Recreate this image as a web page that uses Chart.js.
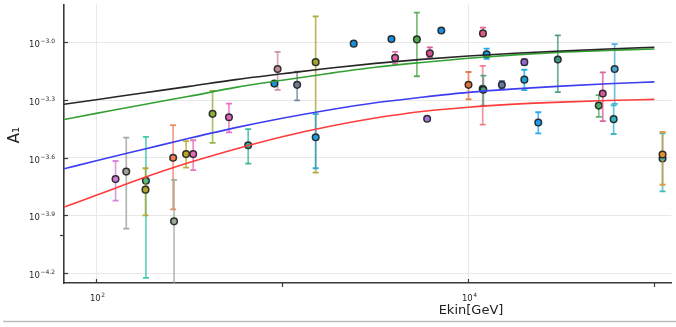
<!DOCTYPE html>
<html><head><meta charset="utf-8">
<script src="https://cdn.jsdelivr.net/npm/chart.js@4.4.1/dist/chart.umd.min.js"></script>
<style>html,body{margin:0;padding:0;background:#fff;}#wrap{position:relative;width:676px;height:327px;}</style>
</head><body><div id="wrap"><canvas id="c" width="676" height="327"></canvas></div>
<script>
// ---- data ----
const energy = [127, 145, 185, 184, 259, 262, 304, 332, 422, 517, 656, 944, 907, 1202, 1512, 1512, 2421, 3862, 4041, 5292, 6210, 7159, 6007, 10025, 11990, 12550, 11950, 12050, 15150, 20010, 20010, 23770, 30280, 50270, 52800, 61180, 60430, 110700, 110700];
const amp = [1.944e-4, 2.127e-4, 1.905e-4, 1.713e-4, 2.511e-4, 1.172e-4, 2.623e-4, 2.623e-4, 4.248e-4, 4.080e-4, 2.918e-4, 7.263e-4, 6.103e-4, 6.010e-4, 7.891e-4, 3.208e-4, 9.847e-4, 1.040e-3, 8.304e-4, 1.036e-3, 8.778e-4, 1.153e-3, 4.003e-4, 6.010e-4, 1.113e-3, 8.675e-4, 5.732e-4, 5.664e-4, 6.010e-4, 7.891e-4, 6.399e-4, 3.831e-4, 8.147e-4, 4.688e-4, 5.421e-4, 7.263e-4, 3.985e-4, 2.487e-4, 2.608e-4];
const errHigh = [2.414e-4, 3.197e-4, 3.220e-4, 2.214e-4, 3.711e-4, 1.928e-4, 3.060e-4, 3.096e-4, 5.598e-4, 4.799e-4, 3.540e-4, 8.917e-4, 6.228e-4, 7.035e-4, 1.365e-3, 4.228e-4, 1.006e-3, 1.061e-3, 8.917e-4, 1.427e-3, 9.425e-4, 1.173e-3, 4.076e-4, 7.010e-4, 1.194e-3, 9.281e-4, 7.552e-4, 6.711e-4, 6.302e-4, 8.147e-4, 7.204e-4, 4.329e-4, 1.086e-3, 5.320e-4, 6.986e-4, 9.799e-4, 4.704e-4, 3.364e-4, 3.424e-4];
const errLow = [1.503e-4, 1.075e-4, 5.949e-5, 1.259e-4, 1.351e-4, 4.601e-5, 2.230e-4, 2.163e-4, 2.999e-4, 3.404e-4, 2.339e-4, 5.664e-4, 5.975e-4, 4.990e-4, 2.102e-4, 2.214e-4, 9.651e-4, 1.018e-3, 7.733e-4, 6.663e-4, 8.373e-4, 1.132e-3, 3.923e-4, 5.050e-4, 1.083e-3, 8.205e-4, 3.729e-4, 4.688e-4, 5.732e-4, 7.643e-4, 5.644e-4, 3.364e-4, 5.512e-4, 4.099e-4, 3.891e-4, 4.782e-4, 3.336e-4, 1.679e-4, 1.817e-4];

const curveE = [67.1, 100, 177.8, 316.2, 562.3, 1000, 1778, 3162, 5623, 10000, 17783, 31623, 56234, 100000];
const blackCurve = [4.76e-4, 5.03e-4, 5.45e-4, 5.90e-4, 6.40e-4, 6.86e-4, 7.33e-4, 7.77e-4, 8.16e-4, 8.49e-4, 8.78e-4, 9.01e-4, 9.23e-4, 9.43e-4];
const greenCurve = [3.97e-4, 4.27e-4, 4.74e-4, 5.24e-4, 5.83e-4, 6.35e-4, 6.89e-4, 7.42e-4, 7.86e-4, 8.27e-4, 8.61e-4, 8.88e-4, 9.08e-4, 9.24e-4];
const blueCurve = [2.20e-4, 2.42e-4, 2.77e-4, 3.17e-4, 3.60e-4, 4.03e-4, 4.45e-4, 4.85e-4, 5.18e-4, 5.49e-4, 5.73e-4, 5.92e-4, 6.09e-4, 6.23e-4];
const redCurve = [1.39e-4, 1.60e-4, 1.97e-4, 2.37e-4, 2.79e-4, 3.23e-4, 3.65e-4, 4.04e-4, 4.37e-4, 4.60e-4, 4.77e-4, 4.89e-4, 4.98e-4, 5.05e-4];

const xTickValues = [100, 1000, 10000, 100000];
const xTickLabels = ['2', '', '4', ''];
const yTickValues = [1e-3, 5.012e-4, 2.512e-4, 1.259e-4, 6.310e-5, 1e-4];
const yTickLabels = ['\u22123.0', '\u22123.3', '\u22123.6', '\u22123.9', '\u22124.2', ''];
const xRange = [67.1, 123200];
const yRange = [5.60e-5, 1.568e-3];

// ---- styles ----
const pointColors = ['#d67ad9','#9e9e9e','#2ec4a4','#b5a22e','#f07d55','#9aaa95','#b8a62a','#e66ab4','#8aae3c','#e262bc','#2fb294','#c48a92','#1a8fe0','#6e8094','#a6a22a','#1e9fe0','#1a8fe0','#1a8fe0','#de64a6','#4ea64e','#d4508e','#1a8fe0','#a476d6','#e2703c','#dc5a8a','#16a2e2','#f0727e','#3e9e7e','#6a78a6','#9466cc','#14a6d6','#18a2ee','#3e9282','#52a664','#d45696','#46a6d6','#2eb4c2','#2eb6b6','#e29234'];
function hexA(h, a){const n=parseInt(h.slice(1),16);return `rgba(${n>>16},${(n>>8)&255},${n&255},${a})`;}

const drawList = [];
for (let i = 0; i < energy.length; i++) {
  drawList.push({type:'line', data:[{x:energy[i], y:errLow[i]}, {x:energy[i], y:errHigh[i]}],
    borderColor: hexA(pointColors[i], 0.75), borderWidth: 1.7, pointStyle: 'line', pointRadius: 3,
    pointBorderWidth: 1.8, pointBorderColor: hexA(pointColors[i], 0.9), pointHoverRadius: 0, fill: false});
  drawList.push({type:'scatter', data:[{x:energy[i], y:amp[i]}], backgroundColor: pointColors[i],
    borderColor: 'rgba(30,30,30,0.9)', borderWidth: 1.5, pointRadius: 3.3, pointHoverRadius: 3.3});
}
const curves = [[redCurve,'#ff3b3b'],[blueCurve,'#3d3df2'],[greenCurve,'#33a033'],[blackCurve,'#262626']];
curves.forEach(([vals,col]) => drawList.push({type:'line', data: curveE.map((e,i)=>({x:e, y:vals[i]})),
  borderColor: col, borderWidth: 1.6, pointRadius: 0, pointHoverRadius: 0, cubicInterpolationMode: 'monotone', fill: false}));
const datasets = drawList.reverse();

const FONT = '"DejaVu Sans", sans-serif';
function drawPow(ctx, base, exp, x, y, align) {
  ctx.font = '8.5px ' + FONT; const bw = ctx.measureText(base).width;
  ctx.font = '6px ' + FONT; const ew = ctx.measureText(exp).width;
  const x0 = align === 'right' ? x - bw - ew - 0.5 : x - (bw + ew + 0.5) / 2;
  ctx.textAlign = 'left'; ctx.textBaseline = 'alphabetic';
  ctx.font = '8.5px ' + FONT; ctx.fillText(base, x0, y);
  ctx.font = '6px ' + FONT; ctx.fillText(exp, x0 + bw + 0.5, y - 3.6);
}

const decor = {
  id: 'decor',
  afterDraw(chart) {
    const {ctx, chartArea: a, scales: {x, y}} = chart;
    ctx.save();
    ctx.strokeStyle = '#3a3a3a'; ctx.lineWidth = 1.2; ctx.fillStyle = '#2a2a2a';
    yTickValues.forEach((v, i) => {
      const py = Math.round(y.getPixelForValue(v)) + 0.5;
      ctx.beginPath();
      if (yTickLabels[i]) { ctx.moveTo(a.left, py); ctx.lineTo(a.left + 4, py); }
      else { ctx.moveTo(a.left - 4, py); ctx.lineTo(a.left, py); }
      ctx.stroke();
      if (yTickLabels[i]) drawPow(ctx, '10', yTickLabels[i], 55, py + 4.5, 'right');
    });
    xTickValues.forEach((v, i) => {
      const px = Math.round(x.getPixelForValue(v)) + 0.5;
      ctx.beginPath();
      if (xTickLabels[i]) { ctx.moveTo(px, a.bottom); ctx.lineTo(px, a.bottom - 4); }
      else { ctx.moveTo(px, a.bottom); ctx.lineTo(px, a.bottom + 4); }
      ctx.stroke();
      if (xTickLabels[i]) drawPow(ctx, '10', xTickLabels[i], px + 1, 300.5, 'center');
    });
    // axis titles
    ctx.fillStyle = '#222';
    ctx.font = '13px ' + FONT; ctx.textAlign = 'center'; ctx.textBaseline = 'middle';
    ctx.fillText('Ekin[GeV]', 471, 311);
    ctx.save(); ctx.translate(15, 135); ctx.rotate(-Math.PI / 2);
    ctx.font = '15px ' + FONT; ctx.fillText('A\u2081', 0, 0); ctx.restore();
    // bottom frame line
    ctx.strokeStyle = '#bdbdbd'; ctx.lineWidth = 1.5;
    ctx.beginPath(); ctx.moveTo(3, 321.5); ctx.lineTo(676, 321.5); ctx.stroke();
    ctx.restore();
  }
};

new Chart(document.getElementById('c'), {
  type: 'scatter',
  data: { datasets },
  options: {
    responsive: false, animation: false, devicePixelRatio: 1,
    layout: { padding: { top: 2, right: 0, left: 0, bottom: 0 } },
    plugins: { legend: { display: false }, tooltip: { enabled: false } },
    scales: {
      x: { type: 'logarithmic', min: xRange[0], max: xRange[1],
        afterBuildTicks: s => { s.ticks = xTickValues.map(v => ({ value: v })); },
        afterFit: s => { s.height = 44; },
        ticks: { display: false, autoSkip: false },
        grid: { drawTicks: false, lineWidth: 1, color: c => xTickLabels[c.index] ? '#e9e9e9' : 'rgba(0,0,0,0)' },
        border: { display: true, color: '#3a3a3a', width: 1.6 } },
      y: { type: 'logarithmic', min: yRange[0], max: yRange[1],
        afterBuildTicks: s => { s.ticks = yTickValues.map(v => ({ value: v })); },
        afterFit: s => { s.width = 64; },
        ticks: { display: false, autoSkip: false },
        grid: { drawTicks: false, lineWidth: 1, color: c => yTickLabels[c.index] ? '#e9e9e9' : 'rgba(0,0,0,0)' },
        border: { display: true, color: '#3a3a3a', width: 1.6 } }
    }
  },
  plugins: [decor]
});
</script></body></html>
